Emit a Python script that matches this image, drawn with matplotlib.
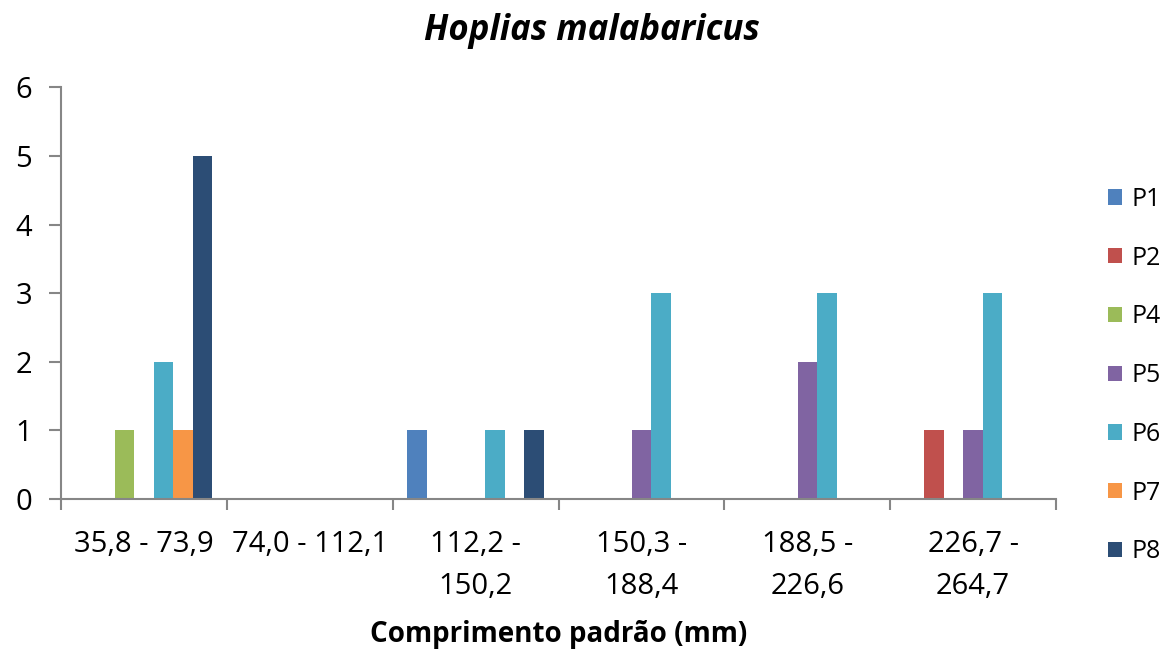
import numpy as np
import matplotlib.pyplot as plt

plt.rcParams['font.family'] = ['Open Sans', 'DejaVu Sans']

classes = ['35,8 - 73,9', '74,0 - 112,1', '112,2 -\n150,2', '150,3 -\n188,4',
           '188,5 -\n226,6', '226,7 -\n264,7']
series = ['P1', 'P2', 'P4', 'P5', 'P6', 'P7', 'P8']
counts = {
    'P1': [0, 0, 1, 0, 0, 0],
    'P2': [0, 0, 0, 0, 0, 1],
    'P4': [1, 0, 0, 0, 0, 0],
    'P5': [0, 0, 0, 1, 2, 1],
    'P6': [2, 0, 1, 3, 3, 3],
    'P7': [1, 0, 0, 0, 0, 0],
    'P8': [5, 0, 1, 0, 0, 0],
}
colors = ['#4F81BD', '#C0504D', '#9BBB59', '#8064A2', '#4BACC6', '#F79646', '#2C4D75']

fig = plt.figure(figsize=(11.73, 6.55), dpi=100)
ax = fig.add_axes([0.052, 0.238, 0.8483, 0.6285])

x = np.arange(len(classes))
w = 1 / (len(series) + 1.5)
for i, (name, c) in enumerate(zip(series, colors)):
    ax.bar(x + (i - (len(series) - 1) / 2) * w, counts[name], width=w,
           color=c, label=name)

ax.set_xlim(-0.5, len(classes) - 0.5)
ax.set_ylim(0, 6)
ax.set_yticks(range(7))
ax.set_xticks(x)
ax.set_xticklabels(classes, fontsize=21, linespacing=1.6)
ax.set_xticks(np.arange(-0.5, len(classes)), minor=True)
ax.tick_params(axis='x', which='major', length=0, pad=22)
ax.tick_params(axis='x', which='minor', length=8, width=1.5, color='#868686')
ax.tick_params(axis='y', length=9, width=1.5, color='#868686', labelsize=21, pad=12)

for s in ['top', 'right']:
    ax.spines[s].set_visible(False)
for s in ['left', 'bottom']:
    ax.spines[s].set_color('#868686')
    ax.spines[s].set_linewidth(1.5)

ax.set_xlabel('Comprimento padrão (mm)', fontsize=20, fontweight='bold', labelpad=14)
fig.suptitle('Hoplias malabaricus', x=0.505, y=0.98, fontsize=25,
             fontweight='bold', fontstyle='italic')

ax.legend(loc='center left', bbox_to_anchor=(1.03, 0.3), frameon=False,
          fontsize=18, handlelength=0.56, handleheight=0.56, handletextpad=0.35,
          labelspacing=1.35)

fig.savefig('out.png', dpi=100)
